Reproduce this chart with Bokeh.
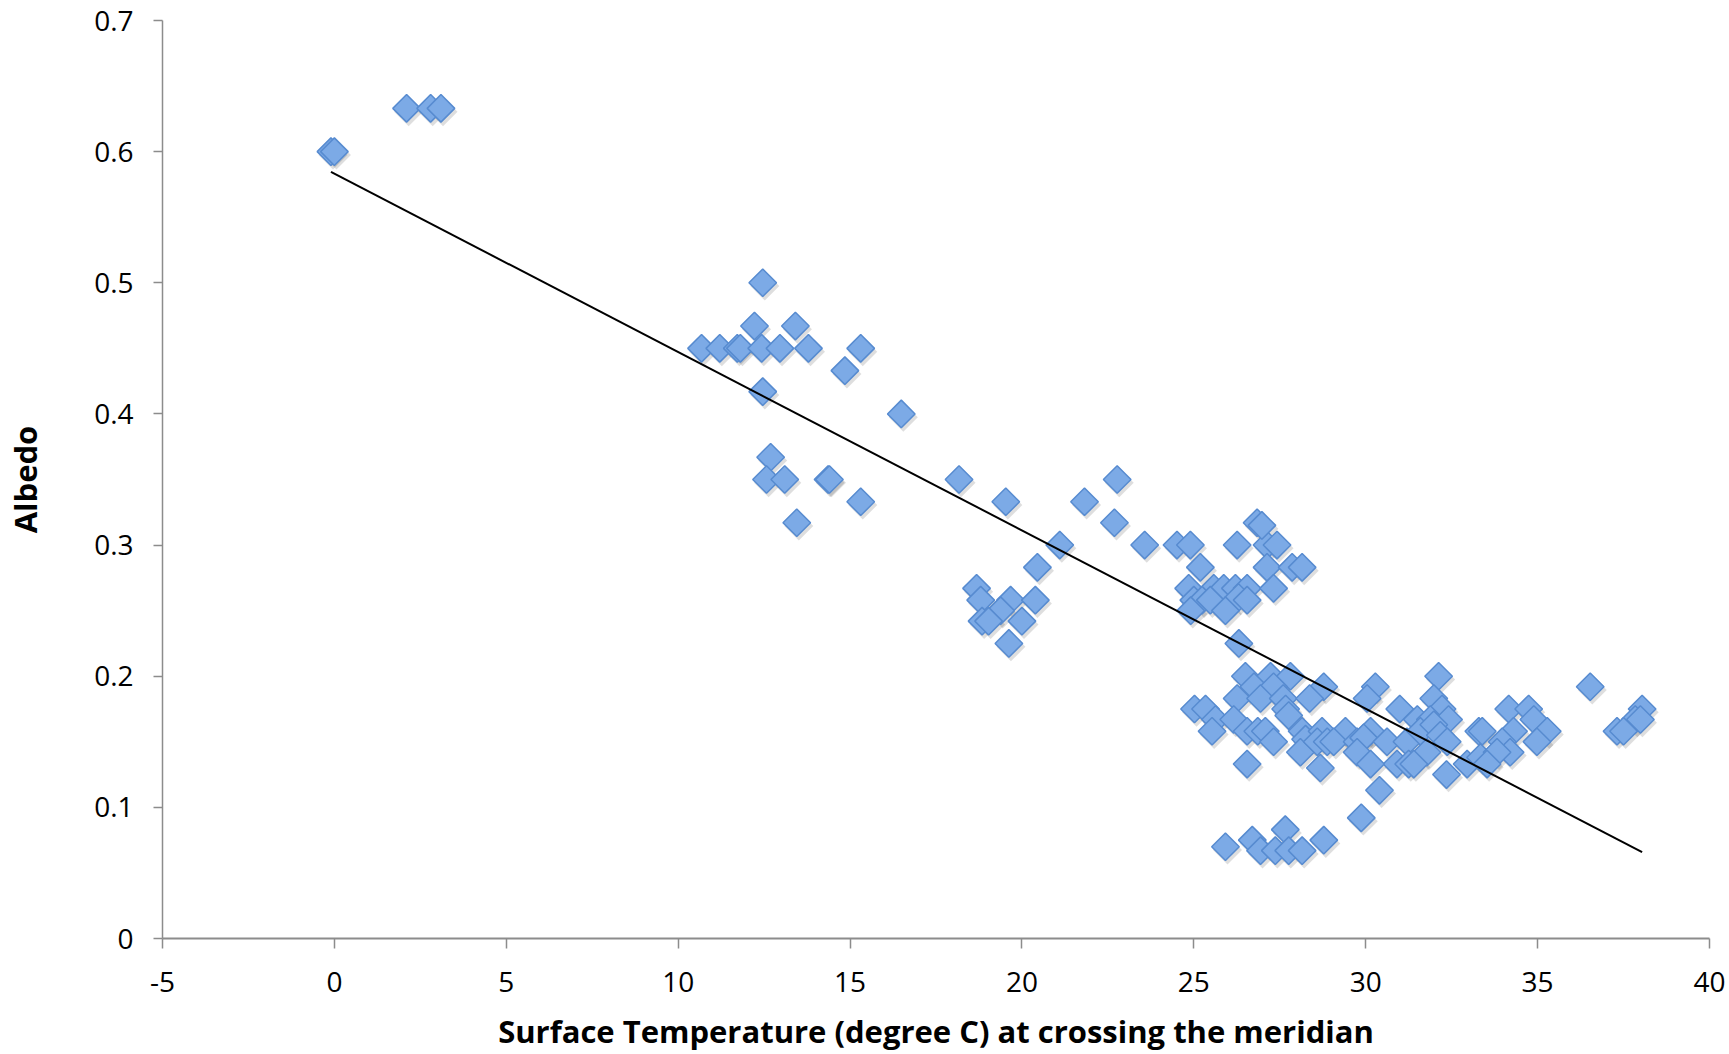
from bokeh.plotting import figure
from bokeh.models import ColumnDataSource, FixedTicker, Range1d
from bokeh.transform import dodge
from bokeh.embed import file_html
from bokeh.resources import INLINE

# ---------------- data ----------------
temperature_c = [
    -0.1, 0.0, 2.1, 2.8, 3.1,
    12.46, 12.22, 13.41, 10.68, 11.21, 11.72, 11.81, 12.43, 12.96, 13.79, 15.31,
    14.85, 12.46, 16.49, 12.69, 12.57, 13.10, 14.36, 14.40, 15.31, 13.45,
    18.17, 19.53, 21.82, 22.77, 22.69, 21.10, 23.57, 20.45, 18.68, 18.80, 19.67,
    20.39, 19.38, 18.84, 19.03, 20.00, 19.62,
    24.51, 24.90, 26.26, 27.13, 27.42, 26.84, 26.98, 25.19, 27.13, 27.86, 28.15,
    24.85, 25.58, 25.87, 26.21, 26.55, 27.32, 25.00, 25.24, 25.48, 26.30, 26.55,
    24.91, 25.92, 26.31,
    26.50, 27.23, 27.81, 28.78, 26.75, 27.32, 26.26, 26.94, 27.60, 28.37, 27.67,
    25.02, 25.34, 25.63, 26.16, 27.76, 25.53, 26.55, 26.86, 27.08, 27.32, 28.15,
    28.25, 28.73, 28.10, 28.68, 26.55, 28.59, 28.88,
    32.12, 30.28, 30.04, 31.98, 30.99, 32.22, 31.50, 31.88, 32.41, 33.29, 29.41,
    30.14, 29.07, 29.75, 29.94, 30.62, 31.20, 31.59, 31.98, 32.17, 32.37, 30.91,
    31.25, 31.78, 29.75, 30.14, 32.95, 33.34, 32.35, 30.40, 29.87, 31.40,
    36.53, 38.04, 37.84, 37.99, 37.31, 37.50, 34.16, 34.74, 34.89, 35.28, 34.30,
    34.98, 33.39, 33.97, 34.20, 33.82, 33.53,
    25.92, 26.70, 26.94, 27.37, 27.66, 27.76, 28.15, 28.78,
]
albedo = [
    0.600, 0.600, 0.633, 0.633, 0.633,
    0.500, 0.467, 0.467, 0.450, 0.450, 0.450, 0.450, 0.450, 0.450, 0.450, 0.450,
    0.433, 0.417, 0.400, 0.367, 0.350, 0.350, 0.350, 0.350, 0.333, 0.317,
    0.350, 0.333, 0.333, 0.350, 0.317, 0.300, 0.300, 0.283, 0.267, 0.258, 0.258,
    0.258, 0.250, 0.242, 0.242, 0.242, 0.225,
    0.300, 0.300, 0.300, 0.300, 0.300, 0.317, 0.315, 0.283, 0.283, 0.283, 0.283,
    0.267, 0.267, 0.267, 0.267, 0.267, 0.267, 0.258, 0.258, 0.258, 0.260, 0.258,
    0.250, 0.250, 0.225,
    0.200, 0.200, 0.200, 0.192, 0.192, 0.192, 0.183, 0.183, 0.183, 0.183, 0.175,
    0.175, 0.175, 0.167, 0.167, 0.170, 0.158, 0.158, 0.158, 0.158, 0.150, 0.158,
    0.152, 0.158, 0.142, 0.130, 0.133, 0.150, 0.150,
    0.200, 0.192, 0.183, 0.183, 0.175, 0.175, 0.167, 0.167, 0.167, 0.158, 0.158,
    0.158, 0.150, 0.150, 0.153, 0.150, 0.150, 0.158, 0.163, 0.155, 0.150, 0.133,
    0.133, 0.142, 0.142, 0.133, 0.133, 0.138, 0.125, 0.113, 0.092, 0.133,
    0.192, 0.175, 0.167, 0.167, 0.158, 0.158, 0.175, 0.175, 0.167, 0.158, 0.158,
    0.150, 0.158, 0.150, 0.142, 0.142, 0.133,
    0.070, 0.075, 0.067, 0.067, 0.083, 0.067, 0.067, 0.075,
]

# linear trend line
trend_slope = -0.01360
trend_intercept = 0.5832

x_ticks = [-5, 0, 5, 10, 15, 20, 25, 30, 35, 40]
x_tick_labels = ["-5", "0", "5", "10", "15", "20", "25", "30", "35", "40"]
y_ticks = [0, 0.1, 0.2, 0.3, 0.4, 0.5, 0.6, 0.7]
y_tick_labels = ["0", "0.1", "0.2", "0.3", "0.4", "0.5", "0.6", "0.7"]

x_title = "Surface Temperature (degree C) at crossing the meridian"
y_title = "Albedo"

# ---------------- figure ----------------
p = figure(
    width=1729, height=1054,
    x_range=Range1d(x_ticks[0], x_ticks[-1]),
    y_range=Range1d(y_ticks[0], y_ticks[-1]),
    output_backend="svg", toolbar_location=None,
    min_border_left=162, min_border_right=20,
    min_border_top=20, min_border_bottom=116,
    background_fill_color="white", border_fill_color="white",
)
p.outline_line_color = None
p.grid.visible = False

src = ColumnDataSource(dict(x=temperature_c, y=albedo))

# soft drop shadow
p.scatter(x=dodge("x", 0.06, range=p.x_range), y=dodge("y", -0.0025, range=p.y_range),
          source=src, marker="square", angle=0.785398, size=20.5,
          fill_color="#000000", fill_alpha=0.13, line_color=None)
# diamonds
p.scatter(x="x", y="y", source=src, marker="square", angle=0.785398, size=19.5,
          fill_color="#7caae6", line_color="#578bd0", line_width=1.5)

# trend line
tx = [min(temperature_c), max(temperature_c)]
ty = [trend_intercept + trend_slope * v for v in tx]
p.line(tx, ty, line_color="black", line_width=2)

# axes
p.xaxis.ticker = FixedTicker(ticks=x_ticks)
p.yaxis.ticker = FixedTicker(ticks=y_ticks)
p.xaxis.major_label_overrides = {t: l for t, l in zip(x_ticks, x_tick_labels)}
p.yaxis.major_label_overrides = {t: l for t, l in zip(y_ticks, y_tick_labels)}

for ax in (p.xaxis[0], p.yaxis[0]):
    ax.axis_line_color = "#8c8c8c"
    ax.major_tick_line_color = "#8c8c8c"
    ax.major_tick_line_width = 1.5
    ax.minor_tick_line_color = None
    ax.major_tick_in = 0
    ax.major_label_text_font = "Open Sans"
    ax.major_label_text_font_size = "28px"
    ax.major_label_text_color = "black"
    ax.axis_label_text_font = "Open Sans"
    ax.axis_label_text_font_style = "bold"
    ax.axis_label_text_font_size = "31px"
    ax.axis_label_text_color = "black"

p.xaxis.axis_line_width = 2
p.yaxis.axis_line_width = 1.5
p.xaxis.major_tick_out = 10
p.yaxis.major_tick_out = 9
p.xaxis.major_label_standoff = 23
p.yaxis.major_label_standoff = 20
p.xaxis.axis_label = x_title
p.yaxis.axis_label = y_title
p.xaxis.axis_label_standoff = 15
p.yaxis.axis_label_standoff = 45

open("out.html", "w").write(file_html(p, INLINE))
